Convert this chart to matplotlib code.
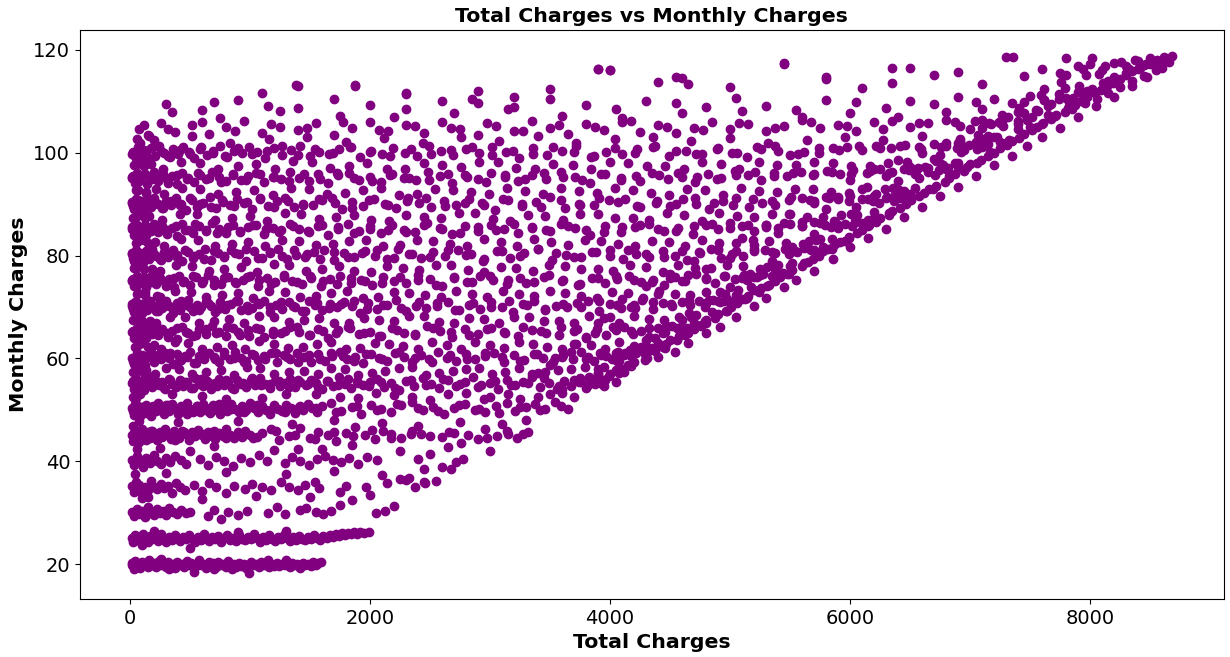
import matplotlib
matplotlib.use('Agg')
import matplotlib.pyplot as plt

# (total charges, monthly charges), band by band
pts_20 = [(18.8,19.9),(22,20.3),(35,19.5),(48,20.6),(60,19.7),(75,20.1),(90,19.3),(104,20.4),(118,19.8),(135,20.0),
          (152,19.4),(168,20.5),(186,19.9),(205,20.2),(222,19.5),(241,20.7),(260,19.8),(279,20.1),(300,19.4),(318,20.5),
          (339,19.7),(357,20.0),(376,19.2),(398,20.4),(415,19.8),(436,20.1),(455,19.5),(474,20.6),(497,19.9),(515,20.2),
          (536,18.6),(553,19.6),(574,20.3),(596,19.8),(615,20.0),(636,19.3),(657,20.5),(678,19.7),(697,20.2),(718,19.5),
          (739,20.4),(760,19.9),(781,20.0),(802,19.4),(823,20.6),(845,19.8),(866,20.1),(887,19.5),(908,20.3),(929,19.7),
          (951,20.0),(972,19.3),(993,18.25),(1012,20.4),(1034,19.8),(1055,20.1),(1076,19.5),(1097,20.5),(1118,19.9),(1140,20.2),
          (1161,19.4),(1182,20.0),(1203,19.7),(1224,20.3),(1246,19.6),(1268,20.1),(1290,19.8),(1311,20.4),(1333,19.5),(1354,20.2),
          (1376,19.9),(1398,20.0),(1420,19.6),(1442,20.3),(1463,19.8),(1485,20.1),(1507,19.7),(1529,20.4),(1550,19.9),(1572,20.2),
          (1590,20.5),(40,19.1),(160,20.8),(330,19.0),(580,20.8),(850,19.1),(1150,20.8),(1420,19.2),(260,21.0),(700,19.0),(1300,20.9)]

pts_25 = [(21,25.1),(30,24.4),(45,25.6),(62,24.8),(80,25.3),(98,24.5),(115,25.8),(133,25.0),(152,24.3),(171,25.5),
          (190,24.9),(212,25.2),(235,24.6),(258,25.9),(280,25.0),(303,24.4),(327,25.4),(350,24.8),(374,25.7),(398,25.1),
          (421,24.5),(445,25.3),(470,24.9),(494,25.6),(518,25.0),(542,24.3),(567,25.4),(591,24.8),(616,25.8),(640,25.1),
          (665,24.6),(690,25.3),(714,24.9),(739,25.5),(764,24.4),(788,25.1),(813,25.7),(838,24.8),(862,25.2),(887,24.5),
          (912,25.6),(937,25.0),(961,24.7),(986,25.4),(1011,24.9),(1036,25.8),(1061,25.1),(1086,24.4),(1111,25.3),(1136,24.8),
          (1161,25.6),(1186,25.0),(1211,24.6),(1236,25.4),(1261,24.9),(1286,25.7),(1311,25.1),(1336,24.5),(1361,25.3),(1387,24.8),
          (1412,25.5),(1437,25.0),(1462,24.7),(1488,25.4),(1513,25.0),(1538,25.7),(1563,25.2),(1589,24.8),(1614,25.5),(1640,25.1),
          (1665,25.7),(1690,25.3),(1716,25.9),(1741,25.5),(1766,26.1),(1792,25.7),(1817,26.0),(1843,25.8),(1868,26.2),(1894,25.9),
          (1920,26.3),(1950,26.1),(1990,26.2),(500,23.2),(200,26.4),(900,26.3),(1300,26.5),(100,23.8)]

pts_30 = [(20,30.1),(40,29.4),(60,30.8),(85,29.8),(105,30.4),(130,29.2),(150,31.1),(175,30.0),(200,29.6),(225,30.7),
          (250,29.9),(280,30.3),(305,29.5),(330,31.0),(360,30.1),(395,29.7),(430,30.5),(470,29.9),(500,30.2),(650,29.3),
          (700,30.6),(760,28.8),(820,30.1),(900,29.5),(980,30.4),(1150,30.0),(1230,31.2),(1290,29.8),(1420,30.5),(1470,30.9),
          (1550,30.2),(1610,29.7),(1680,30.4),(1750,31.5),(2050,29.9),(2130,30.3),(2200,31.3)]

pts_35 = [(20,35.2),(35,34.1),(55,36.0),(80,35.5),(100,33.8),(125,35.0),(150,34.4),(175,36.2),(200,35.1),(230,34.6),
          (260,35.6),(290,34.9),(320,35.3),(350,33.9),(385,35.8),(420,35.0),(460,34.5),(540,35.4),(600,34.2),(660,35.8),
          (720,35.0),(800,33.9),(870,35.2),(960,34.7),(1020,35.6),(1100,35.0),(1180,34.4),(1260,35.9),(1330,35.1),(1400,34.5),
          (1460,35.4),(1540,36.0),(1580,34.8),(1750,34.1),(1800,35.3),(1970,35.0),(2140,35.8),(2300,36.4),(2380,35.0),(2450,35.9)]

pts_40 = [(20,40.3),(40,39.2),(65,41.0),(90,40.0),(115,38.9),(140,40.7),(170,39.6),(200,41.3),(230,40.1),(265,39.4),
          (300,40.6),(340,39.9),(380,41.1),(430,40.2),(470,39.5),(590,40.4),(650,39.3),(720,40.9),(790,40.0),(860,39.1),
          (930,40.6),(1000,39.8),(1080,41.2),(1140,40.1),(1290,39.6),(1350,40.8),(1420,40.0),(1490,39.2),(1560,40.5),(1630,41.0),
          (1690,40.3),(1760,39.8),(1830,40.6),(1900,39.4),(1980,40.9),(2060,40.2),(2250,36.5),(2330,36.8),(2400,40.4),(2460,35.8),
          (2550,36.1),(2600,38.9),(2680,38.5),(2720,39.8),(2780,40.5),(1200,42.2),(1600,42.5),(500,42.0)]

pts_45 = [(20,45.2),(30,44.0),(45,46.1),(60,45.5),(75,43.8),(90,44.9),(105,46.3),(120,45.0),(138,44.2),(155,45.8),
          (172,44.6),(190,46.0),(210,45.3),(230,44.1),(250,45.7),(272,44.8),(295,46.2),(318,45.1),(342,44.3),(366,45.9),
          (390,45.0),(415,44.5),(440,46.0),(466,45.4),(492,44.2),(518,45.7),(545,44.9),(572,46.1),(600,45.2),(628,44.4),
          (656,45.8),(685,45.0),(714,44.3),(744,45.6),(774,44.9),(805,46.2),(836,45.1),(868,44.5),(900,45.7),(932,44.8),
          (965,46.0),(1000,45.2),(1030,44.6),(1100,45.5),(1180,46.3),(1240,44.1),(1330,45.0),(1420,46.4),(1500,44.6),(1570,45.8),
          (1650,45.1),(1720,44.0),(1800,45.6),(1880,46.6),(1960,45.2),(2040,44.3),(2110,45.9),(2180,45.4),(2260,44.6),(2350,46.0),
          (2430,45.3),(2600,44.8),(2700,45.5),(2760,43.6),(2900,44.4),(2960,46.2),(3000,42.1),(3060,44.9),(3150,45.3),(3230,44.5),
          (3320,45.7)]

pts_50 = [(20,50.3),(32,49.1),(48,51.2),(65,50.0),(82,48.8),(100,50.6),(118,49.5),(136,51.0),(155,50.2),(175,48.9),
          (195,50.8),(216,49.7),(238,51.3),(260,50.1),(283,49.3),(306,50.9),(330,49.8),(354,51.1),(378,50.4),(403,49.2),
          (428,50.7),(453,49.9),(479,51.4),(505,50.2),(531,49.5),(558,50.8),(585,49.6),(612,51.2),(640,50.3),(668,49.4),
          (697,50.9),(726,50.0),(755,49.2),(785,50.6),(815,49.8),(845,51.1),(876,50.2),(907,49.5),(938,50.8),(970,49.9),
          (1002,51.3),(1034,50.4),(1067,49.6),(1100,50.7),(1133,50.0),(1167,49.3),(1201,50.9),(1235,50.2),(1270,49.7),(1305,51.0),
          (1340,50.3),(1376,49.4),(1412,50.6),(1448,49.9),(1485,51.2),(1522,50.4),(1560,49.6),(1600,50.8),(1680,51.4),(1760,49.8),
          (1850,50.5),(1930,49.3),(2010,51.0),(2090,50.2),(2180,49.6),(2260,50.9),(2350,51.5),(2440,49.9),(2530,50.6),(2620,49.2),
          (2700,50.4),(2790,51.1),(2880,50.0),(2960,49.5),(3050,50.8),(3140,51.3),(3210,49.8),(3300,50.5),(3380,51.2),(3460,50.1),
          (3540,51.6)]

pts_55 = [(20,55.2),(35,54.1),(55,56.0),(75,54.8),(95,55.6),(118,53.9),(140,55.0),(165,56.3),(190,54.5),(215,55.8),
          (242,54.9),(270,55.4),(298,54.0),(327,56.1),(356,55.1),(386,54.4),(416,55.9),(447,54.7),(478,55.5),(510,54.2),
          (542,56.2),(575,55.0),(608,54.6),(642,55.7),(676,54.1),(711,55.3),(746,56.0),(782,54.8),(818,55.4),(855,54.3),
          (892,55.9),(930,55.1),(968,54.5),(1007,55.8),(1046,54.9),(1086,56.2),(1126,55.0),(1167,54.2),(1208,55.6),(1250,54.7),
          (1292,55.3),(1335,56.1),(1378,54.4),(1422,55.5),(1466,54.8),(1511,55.9),(1556,55.2),(1602,54.0),(1648,55.6),(1695,54.6),
          (1742,56.3),(1790,55.0),(1840,54.3),(1890,55.7),(1945,54.9),(2000,55.4),(2060,56.0),(2120,54.5),(2180,55.2),(2240,53.8),
          (2300,55.6),(2370,54.7),(2440,56.2),(2510,55.0),(2580,54.2),(2650,55.8),(2720,54.6),(2790,55.4),(2860,56.3),(2930,54.9),
          (3000,55.3),(3070,54.0),(3140,55.9),(3210,54.8),(3280,55.5),(3350,56.4),(3420,54.5),(3490,55.2),(3560,54.1),(3620,55.7),
          (3680,54.6),(3740,55.4),(3800,54.3),(3860,55.9),(3920,55.3)]

pts_60 = [(20,60.1),(38,59.0),(58,61.0),(80,59.6),(102,60.7),(126,58.8),(150,60.3),(176,61.2),(203,59.4),(232,60.6),
          (262,59.9),(293,61.1),(325,60.0),(358,58.9),(392,60.8),(427,59.7),(463,60.4),(500,61.3),(538,59.2),(577,60.5),
          (617,59.8),(658,61.0),(700,60.2),(743,59.3),(787,60.7),(832,59.9),(878,61.2),(925,60.1),(973,59.5),(1022,60.9),
          (1072,59.7),(1123,60.4),(1175,61.1),(1228,59.4),(1282,60.6),(1337,59.9),(1393,61.0),(1450,60.2),(1508,59.3),(1567,60.8),
          (1627,59.6),(1688,60.5),(1750,61.2),(1813,59.8),(1877,60.3),(1942,59.1),(2008,60.9),(2075,60.0),(2143,59.5),(2212,61.1),
          (2282,60.2),(2353,59.4),(2425,60.7),(2498,59.9),(2572,61.3),(2647,60.1),(2723,59.6),(2800,60.8),(2878,59.8),(2957,60.5),
          (3037,61.0),(3118,59.3),(3200,60.6),(3282,59.7),(3365,60.9),(3448,60.1),(3530,59.4),(3610,60.7),(3690,59.9),(3760,61.2),
          (3820,60.3),(3870,59.6),(3920,61.0),(3970,60.4),(4020,59.8),(4070,61.3),(4120,60.7),(4170,61.6),(4220,61.0),(4280,61.9)]

band_65_x = [20,40,62,86,112,140,170,202,236,272,310,350,392,436,482,530,580,632,686,742,
             800,860,922,986,1052,1120,1190,1262,1336,1412,1490,1570,1652,1736,1822,1910,2000,2092,2186,2282,
             2380,2480,2582,2686,2792,2900,3010,3122,3236,3352,3470,3590,3700,3800,3890,3970,4050,4120,4190,4260,
             4330,4400,4460,4520,4580,4640,4700]
band_65_y = [65.1,64.0,66.0,64.7,65.6,63.9,65.3,66.2,64.5,65.8,64.9,65.4,63.8,66.1,65.0,64.3,65.7,64.8,66.3,65.2,
             64.4,65.9,64.6,65.5,66.0,64.2,65.3,64.9,66.2,65.1,64.5,65.8,64.0,65.6,66.1,64.7,65.2,64.3,65.9,65.0,
             64.6,66.3,65.4,64.1,65.7,64.8,66.0,65.2,64.4,65.6,64.9,66.2,65.3,64.0,65.8,64.6,65.5,66.1,64.8,65.3,
             64.2,65.9,65.1,66.4,65.7,66.0,66.5]

band_70_x = [20,32,48,66,85,105,126,148,171,195,220,246,273,301,330,360,391,423,456,490,
             525,561,598,636,675,715,756,798,841,885,930,976,1023,1071,1120,1170,1221,1273,1326,1380,
             1435,1491,1548,1606,1665,1725,1786,1850,1915,1985,2060,2140,2220,2300,2385,2470,2560,2650,2740,2830,
             2920,3010,3100,3190,3280,3370,3460,3550,3640,3730,3820,3910,4000,4090,4180,4270,4360,4440,4520,4600,
             4670,4740,4800,4860,4920,4980,5040,5100]
band_70_y = [70.2,69.1,71.0,69.7,70.5,68.9,70.8,69.4,71.2,70.0,69.3,70.6,69.8,71.1,70.1,68.8,70.7,69.5,70.3,71.3,
             69.2,70.4,69.9,71.0,70.2,69.0,70.9,69.6,70.5,71.2,69.4,70.1,69.8,70.7,71.1,69.1,70.4,69.7,70.9,70.0,
             69.3,71.2,70.3,69.5,70.6,69.9,71.0,70.2,68.9,70.8,69.6,70.4,71.3,69.2,70.1,69.8,70.7,71.0,69.4,70.3,
             69.7,70.9,70.0,69.1,70.6,71.2,69.5,70.2,69.9,70.8,71.1,69.3,70.5,69.8,70.0,71.3,69.6,70.7,70.2,71.0,
             70.4,71.2,70.8,71.4,70.9,71.5,71.1,71.6]

band_75_x = [22,40,60,82,106,132,160,190,222,256,292,330,370,412,456,502,550,600,652,706,
             762,820,880,942,1006,1072,1140,1210,1282,1356,1432,1510,1590,1672,1756,1842,1930,2020,2112,2206,
             2302,2400,2500,2602,2706,2812,2920,3030,3142,3256,3372,3490,3610,3732,3856,3960,4060,4160,4260,4360,
             4450,4540,4630,4720,4800,4880,4960,5040,5120,5200,5280,5360,5440]
band_75_y = [75.1,74.0,76.0,74.6,75.5,73.8,75.2,76.2,74.4,75.7,74.9,75.4,73.9,76.1,75.0,74.3,75.8,74.7,76.3,75.2,
             74.5,75.9,74.8,75.3,76.0,74.1,75.6,74.9,76.2,75.1,74.4,75.7,74.0,75.5,76.1,74.6,75.2,74.2,75.9,75.0,
             74.7,76.3,75.4,74.1,75.8,74.8,76.0,75.3,74.4,75.6,74.9,76.2,75.3,74.2,75.7,74.6,75.5,76.1,74.8,75.3,
             74.3,75.9,75.1,76.4,75.6,74.7,76.0,75.4,76.2,75.8,76.5,75.9,76.6]

band_80_x = [20,34,50,68,88,110,134,160,188,218,250,284,320,358,398,440,484,530,578,628,
             680,734,790,848,908,970,1034,1100,1168,1238,1310,1384,1460,1538,1618,1700,1784,1870,1958,2048,
             2140,2234,2330,2428,2528,2630,2734,2840,2948,3058,3170,3284,3400,3518,3638,3760,3884,4000,4110,4220,
             4330,4440,4540,4640,4740,4840,4930,5020,5110,5200,5290,5380,5460,5540,5620,5700,5780,5850]
band_80_y = [80.2,79.0,81.0,79.6,80.5,78.8,80.8,79.4,81.2,80.0,79.3,80.6,79.8,81.1,80.1,78.9,80.7,79.5,80.3,81.3,
             79.2,80.4,79.9,81.0,80.2,79.0,80.9,79.6,80.5,81.2,79.4,80.1,79.8,80.7,81.1,79.1,80.4,79.7,80.9,80.0,
             79.3,81.2,80.3,79.5,80.6,79.9,81.0,80.2,78.9,80.8,79.6,80.4,81.3,79.2,80.1,79.8,80.7,81.0,79.4,80.3,
             79.7,80.9,80.0,79.1,80.6,81.2,79.5,80.2,79.9,80.8,81.1,80.5,81.3,80.9,81.5,81.0,81.6,81.2]

band_85_x = [22,40,62,86,112,140,170,202,236,272,310,350,392,436,482,530,580,632,686,742,
             800,860,922,986,1052,1120,1190,1262,1336,1412,1490,1570,1652,1736,1822,1910,2000,2092,2186,2282,
             2380,2480,2582,2686,2792,2900,3010,3122,3236,3352,3470,3590,3712,3836,3962,4090,4210,4330,4450,4570,
             4690,4800,4900,5000,5100,5200,5300,5400,5500,5600,5700,5790,5880,5960,6040,6100,6150]
band_85_y = [85.1,84.0,86.0,84.7,85.6,83.9,85.3,86.2,84.5,85.8,84.9,85.4,83.8,86.1,85.0,84.3,85.7,84.8,86.3,85.2,
             84.4,85.9,84.6,85.5,86.0,84.2,85.3,84.9,86.2,85.1,84.5,85.8,84.0,85.6,86.1,84.7,85.2,84.3,85.9,85.0,
             84.6,86.3,85.4,84.1,85.7,84.8,86.0,85.2,84.4,85.6,84.9,86.2,85.3,84.0,85.8,84.6,85.5,86.1,84.8,85.3,
             84.2,85.9,85.1,86.4,85.7,84.7,86.0,85.4,86.2,85.8,86.5,85.9,86.6,86.1,86.8,86.3,86.9]

band_90_x = [20,36,54,74,96,120,146,174,204,236,270,306,344,384,426,470,516,564,614,666,
             720,776,834,894,956,1020,1086,1154,1224,1296,1370,1446,1524,1604,1686,1770,1856,1944,2034,2126,
             2220,2316,2414,2514,2616,2720,2826,2934,3044,3156,3270,3386,3504,3624,3746,3870,3996,4124,4254,4386,
             4500,4610,4720,4830,4940,5050,5160,5270,5380,5490,5600,5700,5800,5900,6000,6100,6200,6300,6380,6450,
             6500]
band_90_y = [90.2,89.0,91.0,89.6,90.5,88.8,90.8,89.4,91.2,90.0,89.3,90.6,89.8,91.1,90.1,88.9,90.7,89.5,90.3,91.3,
             89.2,90.4,89.9,91.0,90.2,89.0,90.9,89.6,90.5,91.2,89.4,90.1,89.8,90.7,91.1,89.1,90.4,89.7,90.9,90.0,
             89.3,91.2,90.3,89.5,90.6,89.9,91.0,90.2,88.9,90.8,89.6,90.4,91.3,89.2,90.1,89.8,90.7,91.0,89.4,90.3,
             89.7,90.9,90.0,89.1,90.6,91.2,89.5,90.2,89.9,90.8,91.1,90.5,91.3,90.9,91.5,91.0,91.6,91.2,91.8,91.4,
             91.9]

band_95_x = [22,42,64,88,114,142,172,204,238,274,312,352,394,438,484,532,582,634,688,744,
             802,862,924,988,1054,1122,1192,1264,1338,1414,1492,1572,1654,1738,1824,1912,2002,2094,2188,2284,
             2382,2482,2584,2688,2794,2902,3012,3124,3238,3354,3472,3592,3714,3838,3964,4092,4222,4354,4488,4600,
             4710,4820,4930,5040,5150,5260,5370,5480,5590,5700,5810,5920,6030,6140,6250,6350,6450,6550,6650,6740,
             6820,6900]
band_95_y = [95.1,94.0,96.0,94.7,95.6,93.9,95.3,96.2,94.5,95.8,94.9,95.4,93.8,96.1,95.0,94.3,95.7,94.8,96.3,95.2,
             94.4,95.9,94.6,95.5,96.0,94.2,95.3,94.9,96.2,95.1,94.5,95.8,94.0,95.6,96.1,94.7,95.2,94.3,95.9,95.0,
             94.6,96.3,95.4,94.1,95.7,94.8,96.0,95.2,94.4,95.6,94.9,96.2,95.3,94.0,95.8,94.6,95.5,96.1,94.8,95.3,
             94.2,95.9,95.1,96.4,95.7,94.7,96.0,95.4,96.2,95.8,96.5,95.9,96.6,96.1,96.8,96.3,96.9,96.5,97.0,96.7,
             97.1,97.2]

band_100_x = [30,50,72,96,122,150,180,212,246,282,320,360,402,446,492,540,590,642,696,752,
              810,870,932,996,1062,1130,1200,1272,1346,1422,1500,1580,1662,1746,1832,1920,2010,2102,2196,2292,
              2390,2490,2592,2696,2802,2910,3020,3132,3246,3362,3480,3600,3722,3846,3972,4100,4230,4362,4496,4632,
              4770,4900,5020,5140,5260,5380,5500,5620,5740,5860,5980,6100,6220,6340,6460,6580,6700,6800,6900,6990,
              7070,7150,7250]
band_100_y = [100.2,99.0,101.0,99.6,100.5,98.8,100.8,99.4,101.2,100.0,99.3,100.6,99.8,101.1,100.1,98.9,100.7,99.5,100.3,101.3,
              99.2,100.4,99.9,101.0,100.2,99.0,100.9,99.6,100.5,101.2,99.4,100.1,99.8,100.7,101.1,99.1,100.4,99.7,100.9,100.0,
              99.3,101.2,100.3,99.5,100.6,99.9,101.0,100.2,98.9,100.8,99.6,100.4,101.3,99.2,100.1,99.8,100.7,101.0,99.4,100.3,
              99.7,100.9,100.0,99.1,100.6,101.2,99.5,100.2,99.9,100.8,101.1,100.5,101.3,100.9,101.5,101.0,101.6,101.2,101.8,101.4,
              102.0,101.7,102.1]

band_105_x = [80,160,260,380,520,660,800,950,1100,1250,1400,1550,1700,1850,2000,2150,2300,2450,2600,2750,
              2900,3050,3200,3350,3500,3650,3800,3950,4100,4250,4400,4550,4700,4850,5000,5150,5300,5450,5600,5750,
              5900,6050,6200,6350,6500,6650,6800,6920,7040,7160,7280,7400,7520,7650]
band_105_y = [104.5,103.2,105.8,104.0,105.3,103.6,104.9,106.1,103.9,105.0,104.3,105.7,103.5,104.8,106.0,104.2,105.4,103.8,105.9,104.6,
              103.4,105.2,104.1,106.2,104.7,103.7,105.5,104.4,105.9,104.0,105.3,103.9,104.8,106.0,104.5,105.6,104.2,105.1,106.3,104.7,
              105.4,104.1,105.9,106.2,105.0,105.7,106.4,105.2,106.1,105.8,106.5,106.2,106.9,107.3]

band_110_x = [300,600,900,1150,1400,1700,2000,2300,2600,2900,3200,3500,3800,4050,4300,4550,4800,5050,5300,5550,
              5800,6050,6300,6500,6700,6900,7050,7200,7350,7500,7620,7740,7860,7950]
band_110_y = [109.5,108.3,110.2,109.0,108.6,110.5,109.2,108.4,110.0,109.6,108.8,110.4,109.3,108.5,110.1,109.7,108.9,110.6,109.1,108.2,
              110.3,109.8,108.7,110.0,109.4,110.8,109.9,110.5,109.6,111.0,110.2,111.3,110.7,111.5]

band_115_x = [1400,1880,2300,2900,3500,3900,4000,4400,4600,5000,5450,5800,6100,6350,6500,6700,6900,7100,7300,7450,
              7600,7750,7900,8000,8100,8200,8300,8400]
band_115_y = [113.0,113.2,111.5,112.0,112.3,116.2,116.0,113.8,114.4,112.8,117.3,114.3,112.5,113.6,116.5,115.0,115.7,113.3,118.5,114.8,
              116.2,115.5,116.8,117.2,116.0,117.5,116.9,117.8]

# second pass over the same price bands, in between the first points
extra_45 = [(36,45.6),(82,44.4),(128,45.2),(180,46.0),(240,44.7),(305,45.5),(375,44.2),(450,45.8),(530,44.9),(615,45.4),
            (705,46.0),(800,44.6),(900,45.3),(1060,44.8),(1220,45.9),(1380,45.1),(1540,44.4),(1700,45.7),(1860,45.0),(2020,46.1),
            (2180,44.6),(2340,45.3),(2500,44.9),(2660,45.8),(2820,45.2),(2980,44.5),(3140,45.9),(3280,45.3)]
extra_50 = [(26,49.7),(72,50.8),(125,49.4),(185,50.5),(250,49.9),(320,51.0),(395,50.1),(475,49.3),(560,50.7),(650,49.8),
            (745,51.1),(845,50.2),(950,49.5),(1060,50.9),(1175,50.0),(1295,49.6),(1420,50.8),(1550,50.3),(1720,49.6),(1890,50.8),
            (2060,49.9),(2230,51.2),(2400,50.4),(2570,49.7),(2740,50.9),(2910,50.1),(3080,49.4),(3250,50.6),(3420,49.9),(3590,50.8)]
extra_55 = [(28,55.6),(62,54.4),(100,55.1),(132,56.1),(178,54.7),(228,55.4),(284,54.2),(340,55.9),(400,54.9),(462,55.5),
            (528,54.3),(594,56.0),(660,55.2),(730,54.6),(800,55.8),(872,54.1),(944,55.3),(1018,56.2),(1094,54.8),(1170,55.0),
            (1248,55.7),(1326,54.5),(1406,55.9),(1486,55.1),(1568,54.4),(1650,55.6),(1734,54.9),(1818,56.1),(1904,55.3),(1990,54.7),
            (2090,55.5),(2210,54.2),(2340,55.9),(2470,54.8),(2610,56.0),(2750,55.1),(2900,54.4),(3040,55.7),(3180,54.9),(3320,55.3),
            (3450,56.2),(3580,54.6),(3700,55.8),(3830,56.4),(3960,55.9)]
extra_60 = [(30,59.5),(68,60.6),(110,59.2),(160,60.9),(215,59.8),(275,60.4),(340,61.1),(410,59.6),(480,60.3),(555,59.1),
            (630,60.8),(710,59.9),(790,61.2),(870,60.0),(955,59.4),(1040,60.7),(1130,59.8),(1220,61.0),(1310,60.2),(1400,59.3),
            (1490,60.6),(1585,59.9),(1680,61.1),(1775,60.4),(1870,59.6),(1970,60.8),(2100,59.8),(2240,61.2),(2380,60.1),(2520,59.4),
            (2670,60.7),(2810,59.9),(2960,61.0),(3100,60.3),(3250,59.5),(3390,60.9),(3540,60.0),(3680,61.3),(3800,59.8),(3930,60.6),
            (4050,61.0),(4180,60.5),(4320,61.5)]
extra_65 = [(30,65.4),(75,64.3),(125,65.9),(185,64.8),(250,65.5),(320,64.1),(395,66.0),(470,65.1),(550,64.5),(635,65.7),
            (720,64.9),(810,66.1),(900,65.2),(995,64.4),(1090,65.8),(1190,64.7),(1290,65.4),(1395,66.2),(1500,64.6),(1610,65.3),
            (1720,64.9),(1835,65.9),(1950,65.0),(2080,64.3),(2230,65.6),(2380,64.8),(2530,66.0),(2680,65.2),(2830,64.5),(2980,65.8),
            (3130,64.9),(3280,66.1),(3430,65.3),(3580,64.6),(3730,65.7),(3880,65.0),(4030,66.2),(4180,65.4),(4330,65.9),(4480,66.3),
            (4620,65.8),(4760,66.4)]
extra_70 = [(26,69.6),(58,70.7),(95,69.9),(138,71.0),(185,70.3),(238,69.2),(296,70.5),(360,69.8),(428,71.1),(500,70.0),
            (575,69.4),(652,70.8),(732,69.7),(815,70.4),(900,71.2),(988,69.5),(1078,70.6),(1170,69.9),(1264,71.0),(1360,70.2),
            (1458,69.3),(1558,70.7),(1660,69.8),(1764,70.5),(1870,71.1),(1980,69.6),(2110,70.3),(2260,69.8),(2410,71.0),(2560,70.1),
            (2710,69.4),(2860,70.8),(3010,69.9),(3160,71.2),(3310,70.4),(3460,69.7),(3610,70.6),(3760,70.0),(3910,71.1),(4060,70.3),
            (4210,69.8),(4360,70.9),(4510,70.5),(4660,71.3),(4800,70.8),(4950,71.2),(5080,71.7)]
extra_75 = [(30,75.5),(72,74.4),(120,75.9),(175,74.8),(235,75.3),(300,74.1),(370,75.7),(445,74.9),(525,76.1),(610,75.0),
            (700,74.3),(790,75.6),(885,74.7),(980,75.9),(1080,75.2),(1180,74.5),(1285,75.8),(1390,74.8),(1500,76.0),(1610,75.1),
            (1725,74.4),(1840,75.7),(1960,75.0),(2100,74.6),(2250,75.9),(2400,75.2),(2550,74.3),(2700,75.6),(2850,74.9),(3000,76.1),
            (3150,75.3),(3300,74.7),(3450,75.8),(3600,75.0),(3750,74.5),(3900,75.6),(4050,76.0),(4200,75.2),(4350,74.8),(4500,75.7),
            (4650,76.2),(4800,75.4),(4950,76.0),(5100,75.6),(5250,76.3),(5380,76.0)]
extra_80 = [(28,79.6),(64,80.7),(105,79.9),(152,81.0),(205,80.3),(262,79.2),(325,80.5),(392,79.8),(465,81.1),(540,80.0),
            (620,79.4),(704,80.8),(790,79.7),(880,80.4),(972,81.2),(1068,79.5),(1166,80.6),(1268,79.9),(1372,81.0),(1478,80.2),
            (1588,79.3),(1700,80.7),(1815,79.8),(1932,80.5),(2060,81.1),(2200,79.6),(2350,80.3),(2500,79.8),(2650,81.0),(2800,80.1),
            (2950,79.4),(3100,80.8),(3250,79.9),(3400,81.2),(3550,80.4),(3700,79.7),(3850,80.6),(4000,80.0),(4150,81.1),(4300,80.3),
            (4450,79.8),(4600,80.9),(4750,80.5),(4900,81.3),(5050,80.8),(5200,81.2),(5350,80.6),(5500,81.0),(5650,81.4),(5780,81.1)]
extra_85 = [(30,85.5),(74,84.4),(124,85.9),(180,84.8),(242,85.3),(310,84.1),(384,85.7),(462,84.9),(546,86.1),(634,85.0),
            (726,84.3),(822,85.6),(922,84.7),(1026,85.9),(1134,85.2),(1246,84.5),(1362,85.8),(1482,84.8),(1606,86.0),(1734,85.1),
            (1866,84.4),(2000,85.7),(2150,85.0),(2300,84.6),(2450,85.9),(2600,85.2),(2750,84.3),(2900,85.6),(3050,84.9),(3200,86.1),
            (3350,85.3),(3500,84.7),(3650,85.8),(3800,85.0),(3950,84.5),(4100,85.6),(4250,86.0),(4400,85.2),(4550,84.8),(4700,85.7),
            (4850,86.2),(5000,85.4),(5150,86.0),(5300,85.6),(5450,86.3),(5600,85.8),(5750,86.4),(5900,86.0),(6050,86.6)]
extra_90 = [(28,89.6),(66,90.7),(110,89.9),(160,91.0),(216,90.3),(278,89.2),(346,90.5),(420,89.8),(500,91.1),(585,90.0),
            (675,89.4),(770,90.8),(870,89.7),(975,90.4),(1085,91.2),(1200,89.5),(1320,90.6),(1445,89.9),(1575,91.0),(1710,90.2),
            (1850,89.3),(1995,90.7),(2150,89.8),(2310,90.5),(2470,91.1),(2630,89.6),(2790,90.3),(2950,89.8),(3110,91.0),(3270,90.1),
            (3430,89.4),(3590,90.8),(3750,89.9),(3910,91.2),(4070,90.4),(4230,89.7),(4390,90.6),(4550,90.0),(4710,91.1),(4870,90.3),
            (5030,89.8),(5190,90.9),(5350,90.5),(5510,91.3),(5670,90.8),(5830,91.2),(5990,90.6),(6150,91.0),(6310,91.4),(6420,91.1)]
extra_95 = [(30,95.5),(76,94.4),(128,95.9),(186,94.8),(250,95.3),(320,94.1),(396,95.7),(478,94.9),(566,96.1),(660,95.0),
            (758,94.3),(862,95.6),(970,94.7),(1084,95.9),(1202,95.2),(1326,94.5),(1454,95.8),(1588,94.8),(1726,96.0),(1870,95.1),
            (2018,94.4),(2170,95.7),(2330,95.0),(2490,94.6),(2650,95.9),(2810,95.2),(2970,94.3),(3130,95.6),(3290,94.9),(3450,96.1),
            (3610,95.3),(3770,94.7),(3930,95.8),(4090,95.0),(4250,94.5),(4410,95.6),(4570,96.0),(4730,95.2),(4890,94.8),(5050,95.7),
            (5210,96.2),(5370,95.4),(5530,96.0),(5690,95.6),(5850,96.3),(6010,95.8),(6170,96.4),(6330,96.0),(6490,96.6),(6650,96.3),
            (6800,96.8)]
extra_100 = [(40,99.6),(84,100.7),(136,99.9),(196,101.0),(262,100.3),(336,99.2),(416,100.5),(502,99.8),(594,101.1),(692,100.0),
             (796,99.4),(906,100.8),(1022,99.7),(1144,100.4),(1272,101.2),(1406,99.5),(1546,100.6),(1692,99.9),(1844,101.0),(2000,100.2),
             (2170,99.3),(2340,100.7),(2510,99.8),(2680,100.5),(2850,101.1),(3020,99.6),(3190,100.3),(3360,99.8),(3530,101.0),(3700,100.1),
             (3870,99.4),(4040,100.8),(4210,99.9),(4380,101.2),(4550,100.4),(4720,99.7),(4890,100.6),(5060,100.0),(5230,101.1),(5400,100.3),
             (5570,99.8),(5740,100.9),(5910,100.5),(6080,101.3),(6250,100.8),(6420,101.2),(6590,100.6),(6760,101.0),(6930,101.4),(7100,101.1),
             (7300,101.9)]
extra_105 = [(120,105.3),(320,104.6),(600,105.9),(880,104.2),(1180,105.5),(1480,104.8),(1780,106.0),(2080,104.4),(2380,105.2),(2680,104.7),
             (2980,105.8),(3280,104.1),(3580,105.4),(3880,104.9),(4180,106.1),(4480,105.0),(4780,104.4),(5080,105.7),(5380,104.8),(5680,105.9),
             (5980,105.2),(6280,104.6),(6580,105.8),(6880,106.0),(7180,105.5),(7480,106.3)]

top_right = [(8500,118.3),(8560,117.8),(8620,118.6),(8684,118.75),(8660,117.6),(8450,117.0),(8380,118.0)]

# long-tenure customers crowd along the diagonal edge
diag_outer = [(3880,55.0),(3950,55.8),(3990,56.5),(4080,57.2),(4100,57.9),(4180,58.6),(4200,59.3),(4310,60.0),(4290,60.8),(4380,61.5),
              (4440,62.2),(4470,62.9),(4560,63.6),(4580,64.3),(4650,65.0),(4700,65.8),(4760,66.5),(4790,67.2),(4880,67.9),(4900,68.6),
              (4980,69.3),(5010,70.0),(5060,70.8),(5130,71.5),(5150,72.2),(5240,72.9),(5260,73.6),(5330,74.3),(5380,75.0),(5420,75.8),
              (5490,76.5),(5520,77.2),(5600,77.9),(5620,78.6),(5690,79.3),(5740,80.0),(5780,80.8),(5850,81.5),(5880,82.2),(5960,82.9),
              (5990,83.6),(6060,84.3),(6100,85.0),(6150,85.8),(6220,86.5),(6250,87.2),(6330,87.9),(6350,88.6),(6420,89.3),(6470,90.0),
              (6510,90.8),(6580,91.5),(6620,92.2),(6690,92.9),(6720,93.6),(6790,94.3),(6830,95.0),(6880,95.8),(6950,96.5),(6980,97.2),
              (7060,97.9),(7090,98.6),(7150,99.3),(7200,100.0),(7250,100.8),(7310,101.5),(7350,102.2),(7410,102.9),(7450,103.6),(7520,104.3),
              (7560,105.0),(7610,105.8),(7680,106.5),(7710,107.2),(7790,107.9),(7820,108.6),(7880,109.3),(7930,110.0),(7980,110.8),(8040,111.5),
              (8090,112.2),(8140,112.9),(8190,113.6),(8250,114.3),(8300,115.0),(8350,115.8),(8420,116.5),(8470,117.2),(8560,117.9)]

diag_inner = [(3760,55.5),(3900,57.0),(3950,58.4),(4080,59.6),(4130,61.0),(4260,62.3),(4300,63.5),(4440,64.9),(4470,66.1),(4600,67.4),
              (4660,68.8),(4790,70.0),(4830,71.3),(4960,72.5),(5000,73.9),(5140,75.2),(5170,76.4),(5310,77.8),(5350,79.0),(5490,80.3),
              (5520,81.6),(5660,82.9),(5700,84.1),(5840,85.5),(5870,86.7),(6010,88.0),(6050,89.4),(6190,90.6),(6220,91.9),(6360,93.2),
              (6400,94.5),(6540,95.8),(6570,97.0),(6720,98.4),(6750,99.6),(6890,100.9),(6920,102.2),(7070,103.5),(7100,104.8),(7240,106.0),
              (7270,107.3),(7410,108.6),(7450,109.9),(7590,111.1),(7620,112.4),(7760,113.7),(7800,115.0),(7940,116.2)]

diag_mid = [(7000,104.5),(7100,106.3),(7150,103.2),(7250,105.8),(7320,107.0),(7400,104.6),(7480,106.7),(7550,108.2),(7600,105.5),(7680,109.4),
            (7720,107.3),(7800,110.6),(7850,108.4),(7900,111.8),(7960,109.6),(8020,112.4),(8060,110.5),(8110,113.5),(8150,111.6),(8200,114.6),
            (8250,112.8),(8300,115.4),(8350,113.9),(8400,116.3),(8450,114.8),(8500,117.2),(8550,116.0),(8600,117.0),(7050,102.0),(6950,100.5),
            (6800,101.8),(6700,98.7),(6600,99.9),(6500,97.2),(6400,98.6),(6300,95.4),(6200,96.8),(6100,93.0),(6000,94.6),(5900,91.3),
            (5800,89.0),(5700,90.2),(5600,86.6),(5500,88.1),(5400,84.3),(5300,85.9),(5200,82.0),(5100,83.4),(5000,79.6),(4900,81.1),
            (4800,77.4),(4700,78.9),(4600,75.0),(4500,76.4),(4400,72.6),(4300,74.0),(4200,70.3),(4100,71.6),(4000,68.0),(3900,66.8),
            (3800,64.1),(3700,62.9),(3600,60.3),(3500,58.8),(3400,57.2)]

diag_belt = [(3600,54.0),(3750,56.2),(3820,54.9),(3900,58.0),(4000,57.0),(4060,59.5),(4150,58.8),(4210,61.4),(4350,62.0),(4380,64.0),
             (4500,63.5),(4560,66.0),(4700,66.8),(4720,68.5),(4850,69.0),(4900,71.2),(5000,71.0),(5070,73.3),(5180,73.8),(5230,75.8),
             (5350,76.0),(5400,78.2),(5520,78.6),(5560,80.6),(5680,81.0),(5720,83.0),(5850,83.2),(5900,85.4),(6020,85.8),(6060,87.8),
             (6200,88.4),(6240,90.3),(6370,90.6),(6410,92.8),(6540,93.2),(6580,95.1),(6710,95.6),(6760,97.8),(6880,98.0),(6930,100.2),
             (7060,100.6),(7100,102.7),(7230,103.1),(7280,105.2),(7400,105.5),(7450,107.7),(7570,108.0),(7620,110.2),(7740,110.5),(7790,112.6),
             (7910,113.0),(7970,115.1),(8080,115.3),(8130,116.8),(8260,117.6),(8330,116.2),(8150,114.0),(7980,112.0),(7830,109.8),(7660,107.2),
             (7500,104.9),(7330,102.5),(7170,100.2),(7000,97.8),(6830,95.4),(6660,93.0),(6500,90.7),(6330,88.2),(6160,85.9),(5990,83.5),
             (5820,81.2),(5650,78.8),(5480,76.4),(5310,74.0),(5140,71.7),(4970,69.3),(4800,66.9),(4630,64.5),(4460,62.1),(4290,59.7),
             (4120,57.3),(3950,55.9)]

edge = [(3650,50.2),(3950,54.6),(4050,55.5),(4400,60.2),(4540,61.2),(4650,63.0),(4800,65.0),(4920,66.2),(5050,68.1),(5200,70.2),
        (5300,71.8),(5450,73.9),(5550,75.3),(5700,77.0),(5860,79.4),(6000,81.6),(6150,83.4),(6300,85.1),(6450,87.5),(6600,89.4),
        (6750,91.5),(6900,93.4),(7050,95.5),(7200,97.6),(7350,99.4),(7480,101.3),(7600,103.0),(7750,104.8),(7900,107.0),(8050,109.1),
        (8200,110.8),(8350,112.9),(8480,114.6),(8600,116.4)]

# points between the price bands
fill_low = [(150,33.0),(600,32.6),(1050,33.3),(1500,33.0),(1850,32.4),(2000,33.5),(300,37.8),(800,38.0),(1300,37.5),(1700,38.2),
            (2100,37.3),(2450,38.6),(250,42.6),(700,43.0),(1400,42.4),(1850,43.1),(2250,42.0),(2500,41.5),(2650,42.8),(400,47.6),
            (900,47.9),(1350,47.3),(1700,48.0),(2100,47.5),(2400,46.9),(2750,47.7),(3100,47.2),(3300,48.0),(600,52.8),(1100,52.4),
            (1550,53.0),(1900,52.3),(2200,52.9),(2500,52.0),(2800,53.2),(3000,52.6),(3250,52.1),(3500,53.0),(3700,52.5)]
fill_525 = [(50,52.4),(350,53.1),(800,52.2),(1300,53.0),(1750,52.6),(2050,53.3),(2350,52.5),(2650,53.0),(2950,52.2),(3150,53.1),
            (3400,52.6),(3600,53.3)]

fill_575 = [(120,57.1),(300,58.2),(520,56.9),(760,57.8),(980,58.4),(1200,57.0),(1450,57.6),(1680,58.1),(1900,56.8),(2130,57.5),
            (2350,58.3),(2580,57.2),(2800,57.9),(3020,56.9),(3240,58.2),(3460,57.4),(3680,58.0),(3900,57.1),(4050,57.7),
            (60,57.6),(210,56.9),(410,58.0),(640,57.3),(870,56.8),(1090,58.1),(1330,57.4),(1570,56.9),(1790,57.9),(2020,57.2),
            (2240,58.2),(2470,56.8),(2690,57.6),(2910,58.1),(3130,57.3),(3350,56.9),(3570,57.8),(3790,58.3)]
fill_625 = [(150,62.3),(380,63.1),(600,61.9),(850,62.7),(1080,63.3),(1320,62.0),(1560,62.8),(1800,61.8),(2040,63.0),(2280,62.4),
            (2520,63.2),(2760,61.9),(3000,62.6),(3240,63.1),(3480,62.2),(3720,62.9),(3960,61.8),(4200,62.5),(4400,63.0),
            (70,62.7),(260,61.9),(490,63.0),(730,62.3),(960,61.8),(1200,62.9),(1440,62.2),(1680,63.1),(1920,62.0),(2160,62.8),
            (2400,61.9),(2640,62.6),(2880,63.2),(3120,62.1),(3360,62.8),(3600,61.8),(3840,62.7),(4080,63.1),(4300,62.4)]
fill_675 = [(100,67.2),(340,68.1),(580,66.9),(830,67.7),(1080,68.3),(1330,67.0),(1580,67.9),(1830,66.8),(2080,67.5),(2330,68.2),
            (2580,67.1),(2830,67.8),(3080,66.9),(3330,68.0),(3580,67.3),(3830,68.2),(4080,66.8),(4330,67.6),(4580,68.1),(4800,67.4),
            (60,67.7),(220,66.9),(460,68.0),(700,67.3),(950,66.8),(1200,68.1),(1450,67.4),(1700,66.9),(1950,67.9),(2200,67.2),
            (2450,68.2),(2700,66.8),(2950,67.6),(3200,68.1),(3450,67.3),(3700,66.9),(3950,67.8),(4200,68.2),(4450,67.5),(4680,68.0)]
fill_725 = [(130,72.4),(380,73.2),(640,71.9),(900,72.7),(1160,73.1),(1420,72.0),(1680,72.8),(1940,71.8),(2200,73.0),(2460,72.3),
            (2720,73.2),(2980,71.9),(3240,72.6),(3500,73.1),(3760,72.2),(4020,72.9),(4280,71.8),(4540,72.5),(4800,73.0),(5050,72.4),
            (5200,73.3),(70,72.8),(250,71.9),(510,73.0),(770,72.3),(1030,71.8),(1290,72.9),(1550,72.2),(1810,73.1),(2070,72.0),
            (2330,72.8),(2590,71.9),(2850,72.6),(3110,73.2),(3370,72.1),(3630,72.8),(3890,71.8),(4150,72.7),(4410,73.1),(4670,72.4),
            (4920,72.9)]
fill_775 = [(120,77.3),(390,78.1),(660,76.9),(930,77.7),(1200,78.3),(1470,77.0),(1740,77.9),(2010,76.8),(2280,77.5),(2550,78.2),
            (2820,77.1),(3090,77.8),(3360,76.9),(3630,78.0),(3900,77.3),(4170,78.2),(4440,76.8),(4710,77.6),(4980,78.1),(5250,77.4),
            (5500,77.9),(60,77.7),(250,76.9),(520,78.0),(790,77.3),(1060,76.8),(1330,78.1),(1600,77.4),(1870,76.9),(2140,77.9),
            (2410,77.2),(2680,78.2),(2950,76.8),(3220,77.6),(3490,78.1),(3760,77.3),(4030,76.9),(4300,77.8),(4570,78.2),(4840,77.5),
            (5110,78.0),(5380,77.4)]
fill_825 = [(150,82.4),(430,83.2),(710,81.9),(990,82.7),(1270,83.1),(1550,82.0),(1830,82.8),(2110,81.8),(2390,83.0),(2670,82.3),
            (2950,83.2),(3230,81.9),(3510,82.6),(3790,83.1),(4070,82.2),(4350,82.9),(4630,81.8),(4910,82.5),(5190,83.0),(5470,82.4),
            (5750,83.3),(5920,82.6),(70,82.8),(290,81.9),(570,83.0),(850,82.3),(1130,81.8),(1410,82.9),(1690,82.2),(1970,83.1),
            (2250,82.0),(2530,82.8),(2810,81.9),(3090,82.6),(3370,83.2),(3650,82.1),(3930,82.8),(4210,81.8),(4490,82.7),(4770,83.1),
            (5050,82.4),(5330,82.9),(5610,82.2)]
fill_875 = [(130,87.3),(420,88.1),(710,86.9),(1000,87.7),(1290,88.3),(1580,87.0),(1870,87.9),(2160,86.8),(2450,87.5),(2740,88.2),
            (3030,87.1),(3320,87.8),(3610,86.9),(3900,88.0),(4190,87.3),(4480,88.2),(4770,86.8),(5060,87.6),(5350,88.1),(5640,87.4),
            (5930,87.9),(6200,87.2),(60,87.7),(270,86.9),(560,88.0),(850,87.3),(1140,86.8),(1430,88.1),(1720,87.4),(2010,86.9),
            (2300,87.9),(2590,87.2),(2880,88.2),(3170,86.8),(3460,87.6),(3750,88.1),(4040,87.3),(4330,86.9),(4620,87.8),(4910,88.2),
            (5200,87.5),(5490,88.0),(5780,87.4),(6050,88.1)]
fill_925 = [(140,92.4),(440,93.2),(740,91.9),(1040,92.7),(1340,93.1),(1640,92.0),(1940,92.8),(2240,91.8),(2540,93.0),(2840,92.3),
            (3140,93.2),(3440,91.9),(3740,92.6),(4040,93.1),(4340,92.2),(4640,92.9),(4940,91.8),(5240,92.5),(5540,93.0),(5840,92.4),
            (6140,93.3),(6450,92.6),(70,92.8),(290,91.9),(590,93.0),(890,92.3),(1190,91.8),(1490,92.9),(1790,92.2),(2090,93.1),
            (2390,92.0),(2690,92.8),(2990,91.9),(3290,92.6),(3590,93.2),(3890,92.1),(4190,92.8),(4490,91.8),(4790,92.7),(5090,93.1),
            (5390,92.4),(5690,92.9),(5990,92.2),(6290,93.0)]
fill_975 = [(120,97.3),(430,98.1),(740,96.9),(1050,97.7),(1360,98.3),(1670,97.0),(1980,97.9),(2290,96.8),(2600,97.5),(2910,98.2),
            (3220,97.1),(3530,97.8),(3840,96.9),(4150,98.0),(4460,97.3),(4770,98.2),(5080,96.8),(5390,97.6),(5700,98.1),(6010,97.4),
            (6320,97.9),(6630,97.2),(6900,98.0),(60,97.7),(280,96.9),(590,98.0),(900,97.3),(1210,96.8),(1520,98.1),(1830,97.4),
            (2140,96.9),(2450,97.9),(2760,97.2),(3070,98.2),(3380,96.8),(3690,97.6),(4000,98.1),(4310,97.3),(4620,96.9),(4930,97.8),
            (5240,98.2),(5550,97.5),(5860,98.0),(6170,97.4),(6480,98.1),(6780,97.6)]
fill_1025 = [(200,102.4),(520,103.2),(840,101.9),(1160,102.7),(1480,103.1),(1800,102.0),(2120,102.8),(2440,101.8),(2760,103.0),(3080,102.3),
             (3400,103.2),(3720,101.9),(4040,102.6),(4360,103.1),(4680,102.2),(5000,102.9),(5320,101.8),(5640,102.5),(5960,103.0),(6280,102.4),
             (6600,103.3),(6920,102.6),(7200,103.0)]
fill_1075 = [(350,107.9),(750,106.8),(1250,108.0),(1750,107.2),(2200,106.9),(2700,107.6),(3150,108.4),(3600,107.1),(4100,106.8),(4600,107.7),
             (5100,108.1),(5600,107.0),(6000,107.6),(6400,106.9),(6800,107.8),(7100,108.5),(7400,107.9),(7650,109.0)]

left_strip = [(25,57.3),(70,58.4),(140,57.8),(45,62.2),(110,63.0),(200,62.6),(30,67.4),(90,68.0),(170,67.2),(60,72.5),
              (130,73.0),(230,72.2),(35,77.6),(100,78.2),(190,77.4),(50,82.4),(120,83.1),(210,82.7),(25,87.3),(85,88.0),
              (160,87.6),(55,92.8),(135,92.2),(220,93.0),(40,97.5),(105,98.2),(180,97.8),(60,102.6),(150,103.4),(90,101.8),
              (30,46.9),(80,47.8),(30,52.6),(90,53.0),(60,42.5),(45,37.5),(100,32.8),(20,99.8),(20,95.2),(22,90.4),
              (20,85.6),(22,80.4),(20,75.3),(20,70.6)]

outliers = [(700,109.9),(1100,111.5),(1383,113.1),(1877,113.0),(2300,111.3),(2850,110.4),(3200,110.8),(3900,116.3),(4000,116.1),(4550,114.6),
            (4650,113.4),(5450,117.4),(5800,114.6),(6350,116.5),(7360,118.6),(7800,118.4),(8020,118.3)]

pair_groups = [pts_20, pts_25, pts_30, pts_35, pts_40, pts_45, pts_50, pts_55, pts_60,
               extra_45, extra_50, extra_55, extra_60, extra_65, extra_70, extra_75, extra_80,
               extra_85, extra_90, extra_95, extra_100, extra_105,
               top_right, diag_outer, diag_inner, diag_mid, diag_belt, edge, fill_low, fill_525,
               fill_575, fill_625, fill_675, fill_725, fill_775, fill_825, fill_875,
               fill_925, fill_975, fill_1025, fill_1075, left_strip, outliers]
xy_groups = [(band_65_x, band_65_y), (band_70_x, band_70_y), (band_75_x, band_75_y),
             (band_80_x, band_80_y), (band_85_x, band_85_y), (band_90_x, band_90_y),
             (band_95_x, band_95_y), (band_100_x, band_100_y), (band_105_x, band_105_y),
             (band_110_x, band_110_y), (band_115_x, band_115_y)]

total, monthly = [], []
for g in pair_groups:
    for t, m in g:
        total.append(t)
        monthly.append(m)
for gx, gy in xy_groups:
    assert len(gx) == len(gy), (len(gx), len(gy))
    total += gx
    monthly += gy

fig, ax = plt.subplots(figsize=(12.3, 6.57), dpi=100)
ax.scatter(total, monthly, color='purple')
ax.set_title('Total Charges vs Monthly Charges', fontsize=14.75, fontweight='bold')
ax.set_xlabel('Total Charges', fontsize=14.75, fontweight='bold')
ax.set_ylabel('Monthly Charges', fontsize=14.75, fontweight='bold')
ax.tick_params(labelsize=14)
plt.subplots_adjust(left=0.065, right=0.995, top=0.954, bottom=0.088)
plt.savefig('out.png')
